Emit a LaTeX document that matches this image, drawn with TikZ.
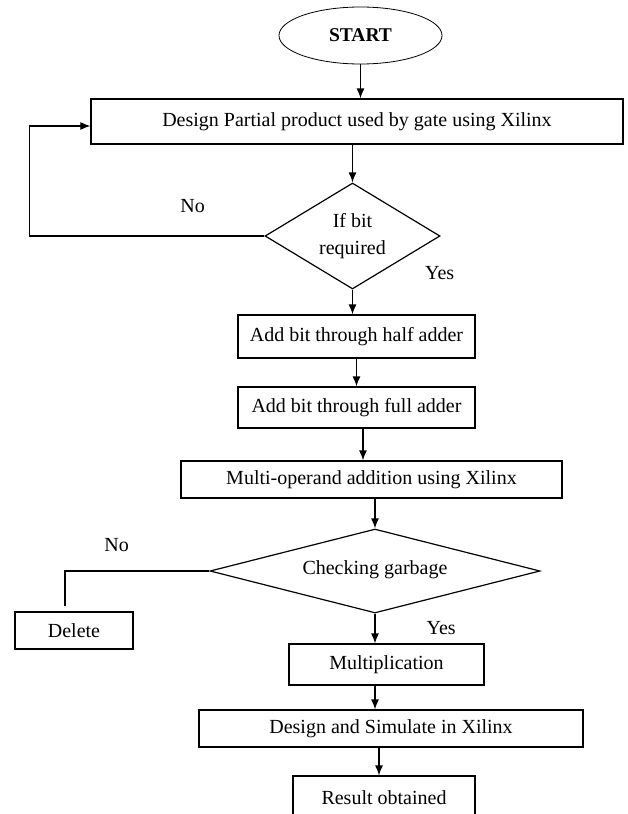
\documentclass[tikz,border=0pt]{standalone}
\usepackage{fontspec}
\setmainfont{Liberation Serif}
\usetikzlibrary{shapes.geometric, positioning, arrows.meta}

\begin{document}
\begin{tikzpicture}[
    x=1pt, y=1pt,
    on grid,
    line width=1.2pt,
    >={Latex[length=10pt,width=8pt]},
    font=\fontsize{20}{24}\selectfont,
    process/.style={draw, rectangle, inner sep=0pt, align=center},
    decision/.style={draw, diamond, inner sep=0pt, align=center},
    terminal/.style={draw, ellipse, inner sep=0pt, line width=0.8pt, font=\fontsize{19.5}{24}\selectfont\bfseries},
    lbl/.style={inner sep=0pt}
]
   \useasboundingbox (-360.5,35.5) rectangle ++(627,-814);

   % Nodes
   \node[terminal, minimum width=163pt, minimum height=57pt] (start) at (0,0) {START};
   \node[process, minimum width=532pt, minimum height=45pt] (design) [below=86pt of start, xshift=-3.5pt] {Design Partial product used by gate using Xilinx};
   \node[decision, aspect=1.65, minimum width=175pt, minimum height=106pt, font=\fontsize{20}{27}\selectfont] (ifbit) [below=114.5pt of design, xshift=-4.5pt] {If bit\\required};
   \node[process, minimum width=237pt, minimum height=43pt] (half) [below=100.5pt of ifbit, xshift=4pt] {Add bit through half adder};
   \node[process, minimum width=237pt, minimum height=41pt] (full) [below=71pt of half] {Add bit through full adder};
   \node[process, minimum width=381pt, minimum height=37pt] (multi) [below=72pt of full, xshift=15pt] {Multi-operand addition using Xilinx};
   \node[decision, aspect=3.9, minimum width=330pt, minimum height=84pt] (check) [below=91.5pt of multi, xshift=3.5pt] {\raisebox{6pt}{Checking garbage}};
   \node[process, minimum width=118pt, minimum height=37pt] (delete) [below left=59.5pt and 301pt of check] {Delete};
   \node[process, minimum width=195pt, minimum height=41pt] (mult) [below=93.5pt of check, xshift=11.5pt] {Multiplication};
   \node[process, minimum width=384pt, minimum height=37pt] (sim) [below=64pt of mult, xshift=4.5pt] {Design and Simulate in Xilinx};
   \node[process, minimum width=182pt, minimum height=50pt] (result) [below=72.5pt of sim, xshift=-7pt] {\raisebox{6pt}{Result obtained}};

   % Labels
   \node[lbl] (no1) [above left=23pt and 59pt of ifbit.west] {No};
   \node[lbl] (yes1) [above right=9pt and 72pt of ifbit.south] {Yes};
   \node[lbl] (no2) [above left=19pt and 80pt of check.west] {No};
   \node[lbl] (yes2) [below right=7pt and 51pt of check.south] {Yes};

   % Main flow
   \draw[->] (start.south) -- (start.south |- design.north);
   \draw[->] (ifbit.north |- design.south) -- (ifbit.north);
   \draw[->] (ifbit.south) -- (ifbit.south |- half.north);
   \draw[->] (half.south) -- (half.south |- full.north);
   \draw[->] ([xshift=6.5pt]full.south) -- ([xshift=6.5pt]full.south |- multi.north);
   \draw[->] (check.north |- multi.south) -- (check.north);
   \draw[->] (check.south) -- (check.south |- mult.north);
   \draw[->] (check.south |- mult.south) -- (check.south |- sim.north);
   \draw[->] ([xshift=-5pt]result.north |- sim.south) -- ([xshift=-5pt]result.north);

   % Branches
   \draw[->] (ifbit.west) -- ++(-235pt,0) |- ([yshift=-4.5pt]design.west);
   \draw[shorten >=5pt] (check.west) -| ([xshift=-9pt]delete.north);
\end{tikzpicture}
\end{document}
